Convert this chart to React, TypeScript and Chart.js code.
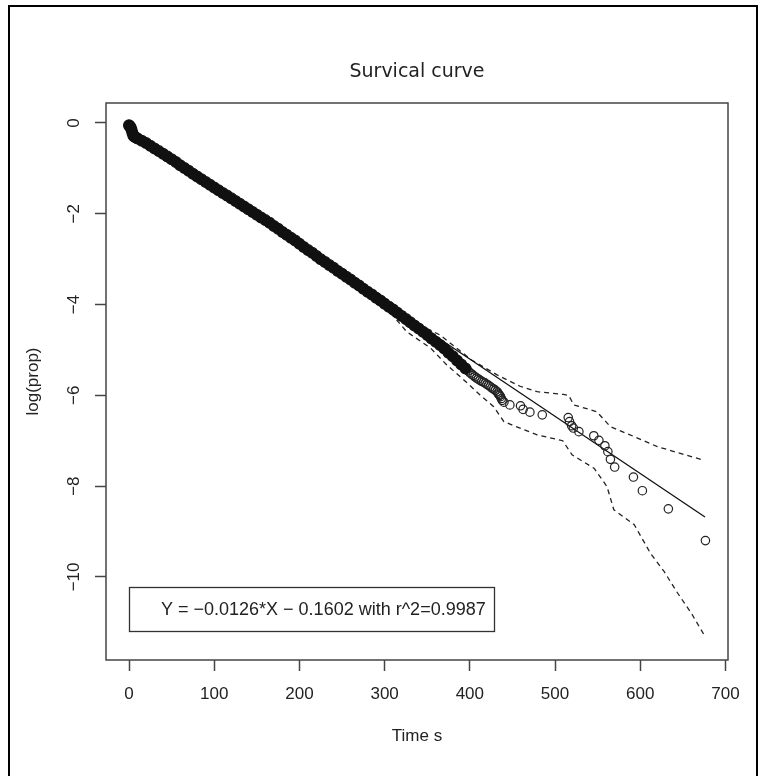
import React, { useEffect, useRef } from 'react';
import { Chart, registerables } from 'chart.js';

Chart.register(...registerables);

const titleText = 'Survical curve';
const xAxisTitle = 'Time s';
const yAxisTitle = 'log(prop)';
const legendText = 'Y = \u22120.0126*X \u2212 0.1602 with r^2=0.9987';

const xTicks = [0, 100, 200, 300, 400, 500, 600, 700];
const yTicks = [0, -2, -4, -6, -8, -10];
const yTickLabels = ['0', '\u22122', '\u22124', '\u22126', '\u22128', '\u221210'];

// dense observations (overlapping circles form a solid band)
const denseTime = [0, 1, 2, 3, 4, 5, 6, 8, 10, 15, 20, 25, 30, 35, 40, 45, 50, 55, 60, 65, 70, 75, 80, 85, 90, 95, 100,
  105, 110, 115, 120, 125, 130, 135, 140, 145, 150, 155, 160, 165, 170, 175, 180, 185, 190, 195, 200,
  205, 210, 215, 220, 225, 230, 235, 240, 245, 250, 255, 260, 265, 270, 275, 280, 285, 290, 295, 300,
  305, 310, 315, 320, 325, 330, 335, 340, 345, 350, 355, 360, 365, 370, 375, 380, 385, 390, 395];
const denseLogProp = [-0.05, -0.07, -0.1, -0.15, -0.22, -0.27, -0.3, -0.32, -0.34, -0.39, -0.44, -0.5, -0.56, -0.62, -0.68, -0.74, -0.8, -0.86, -0.93, -0.99, -1.05, -1.12, -1.18, -1.24, -1.3, -1.36, -1.42,
  -1.48, -1.54, -1.6, -1.66, -1.72, -1.78, -1.84, -1.9, -1.96, -2.02, -2.08, -2.14, -2.2, -2.27, -2.33, -2.4, -2.46, -2.53, -2.59, -2.66,
  -2.73, -2.8, -2.86, -2.93, -3.0, -3.06, -3.13, -3.19, -3.26, -3.32, -3.39, -3.45, -3.52, -3.58, -3.65, -3.72, -3.78, -3.85, -3.91, -3.98,
  -4.05, -4.11, -4.18, -4.25, -4.32, -4.39, -4.46, -4.53, -4.6, -4.67, -4.75, -4.82, -4.89, -4.97, -5.06, -5.14, -5.23, -5.32, -5.41];

// individually visible open circles
const sparseTime = [398, 400, 402, 404, 406, 408, 410, 412, 414, 416, 418, 420, 422, 424, 426, 428, 430, 432, 433, 434, 435, 436, 437, 438, 440,
  447, 459.5, 462.5, 470.5, 485, 515.5, 517, 519.5, 521.5, 528, 545.5, 551.5, 558.5, 562, 565, 570, 592, 602.5, 633, 676.5];
const sparseLogProp = [-5.46, -5.5, -5.53, -5.56, -5.59, -5.62, -5.64, -5.67, -5.69, -5.71, -5.73, -5.76, -5.78, -5.81, -5.84, -5.86, -5.89, -5.92, -5.95, -5.98, -6.0, -6.03, -6.07, -6.11, -6.15,
  -6.21, -6.23, -6.31, -6.37, -6.43, -6.49, -6.58, -6.67, -6.72, -6.8, -6.89, -6.99, -7.11, -7.24, -7.41, -7.58, -7.8, -8.1, -8.5, -9.2];

// fitted regression line
const fitTime = [0, 676];
const fitLogProp = [-0.16, -8.68];

// confidence bounds (dashed)
const upperTime = [290, 310, 334, 365, 402, 432, 459, 479, 510, 516, 522, 549, 565, 593, 620, 673];
const upperLogProp = [-3.72, -3.98, -4.38, -4.67, -5.22, -5.55, -5.8, -5.92, -5.98, -6.0, -6.21, -6.36, -6.69, -6.91, -7.13, -7.42];
const lowerTime = [290, 310, 326, 354, 373, 393, 412, 428, 440, 460, 479, 509, 520, 546, 561, 569, 593, 612, 628, 644, 660, 676];
const lowerLogProp = [-3.95, -4.25, -4.6, -4.96, -5.33, -5.66, -5.99, -6.25, -6.58, -6.73, -6.87, -7.0, -7.31, -7.61, -8.01, -8.52, -8.85, -9.48, -9.88, -10.36, -10.8, -11.31];

const xMin = -27;
const xMax = 703;
const yMin = -11.83;
const yMax = 0.44;

const toPts = (xs: number[], ys: number[]) => xs.map((x, i) => ({ x, y: ys[i] }));

const TEXT = '#222';
const AXIS = '#444';
const SANS = '"Liberation Sans", Arial, sans-serif';

export default function App() {
  const ref = useRef<HTMLCanvasElement | null>(null);

  useEffect(() => {
    if (!ref.current) return;

    const decor = {
      id: 'decor',
      afterDraw(chart: any) {
        const { ctx, chartArea } = chart;
        const { left, right, top, bottom } = chartArea;
        const ys = chart.scales.y;
        ctx.save();
        // outer frame
        ctx.strokeStyle = '#000';
        ctx.lineWidth = 2;
        ctx.strokeRect(9, 6, 748, 800);
        // plot box
        ctx.strokeStyle = AXIS;
        ctx.lineWidth = 1.5;
        ctx.strokeRect(left, top, right - left, bottom - top);
        // title
        ctx.fillStyle = TEXT;
        ctx.font = '19px "DejaVu Sans", sans-serif';
        ctx.textAlign = 'center';
        ctx.textBaseline = 'middle';
        ctx.fillText(titleText, (left + right) / 2, 72);
        // x axis title
        ctx.font = '17px ' + SANS;
        ctx.fillText(xAxisTitle, (left + right) / 2, 736);
        // y axis title
        ctx.save();
        ctx.translate(33, (top + bottom) / 2);
        ctx.rotate(-Math.PI / 2);
        ctx.fillText(yAxisTitle, 0, 0);
        ctx.restore();
        // y tick labels (rotated)
        ctx.font = '17px ' + SANS;
        yTicks.forEach((v, i) => {
          const py = ys.getPixelForValue(v);
          ctx.save();
          ctx.translate(74, py);
          ctx.rotate(-Math.PI / 2);
          ctx.fillText(yTickLabels[i], 0, 0);
          ctx.restore();
        });
        // legend box
        const bx = left + 23;
        const by = bottom - 73;
        ctx.strokeStyle = '#333';
        ctx.lineWidth = 1.3;
        ctx.strokeRect(bx + 0.5, by + 0.5, 365, 44);
        ctx.font = '18px ' + SANS;
        ctx.textAlign = 'left';
        ctx.fillText(legendText, bx + 32, by + 23);
        ctx.restore();
      },
    };

    const chart = new Chart(ref.current, {
      type: 'scatter',
      data: {
        datasets: [
          {
            label: 'dense',
            data: toPts(denseTime, denseLogProp),
            pointRadius: 5.4,
            pointBorderWidth: 1.2,
            pointBackgroundColor: '#111',
            pointBorderColor: '#111',
            showLine: false,
          },
          {
            label: 'obs',
            data: toPts(sparseTime, sparseLogProp),
            pointRadius: 4.2,
            pointBorderWidth: 1.2,
            pointBackgroundColor: 'rgba(0,0,0,0)',
            pointBorderColor: '#222',
            showLine: false,
          },
          {
            label: 'fit',
            data: toPts(fitTime, fitLogProp),
            showLine: true,
            pointRadius: 0,
            borderColor: '#111',
            borderWidth: 1.3,
          },
          {
            label: 'upper',
            data: toPts(upperTime, upperLogProp),
            showLine: true,
            pointRadius: 0,
            borderColor: '#222',
            borderWidth: 1.3,
            borderDash: [5, 4],
          },
          {
            label: 'lower',
            data: toPts(lowerTime, lowerLogProp),
            showLine: true,
            pointRadius: 0,
            borderColor: '#222',
            borderWidth: 1.3,
            borderDash: [5, 4],
          },
        ],
      },
      options: {
        responsive: false,
        animation: false,
        events: [],
        layout: { padding: { left: 0, top: 103, right: 41, bottom: 0 } },
        plugins: { legend: { display: false }, tooltip: { enabled: false }, title: { display: false } },
        scales: {
          x: {
            type: 'linear',
            position: 'bottom',
            min: xMin,
            max: xMax,
            afterBuildTicks: (s: any) => { s.ticks = xTicks.map((v) => ({ value: v })); },
            afterFit: (s: any) => { s.height = 116; },
            grid: { drawOnChartArea: false, drawTicks: true, tickLength: 11, tickColor: AXIS, tickWidth: 1.5 },
            border: { display: false },
            ticks: {
              color: TEXT,
              font: { family: SANS, size: 17 },
              padding: 13,
              maxRotation: 0,
              autoSkip: false,
              callback: (v: any) => String(v),
            },
          },
          y: {
            type: 'linear',
            min: yMin,
            max: yMax,
            afterBuildTicks: (s: any) => { s.ticks = yTicks.map((v) => ({ value: v })); },
            afterFit: (s: any) => { s.width = 106; },
            grid: { drawOnChartArea: false, drawTicks: true, tickLength: 11, tickColor: AXIS, tickWidth: 1.5 },
            border: { display: false },
            ticks: { display: false },
          },
        },
      },
      plugins: [decor],
    } as any);

    return () => chart.destroy();
  }, []);

  return (
    <div style={{ position: 'absolute', left: 0, top: 0, width: 769, height: 776, background: '#fff' }}>
      <canvas ref={ref} width={769} height={776} style={{ display: 'block' }} />
    </div>
  );
}
